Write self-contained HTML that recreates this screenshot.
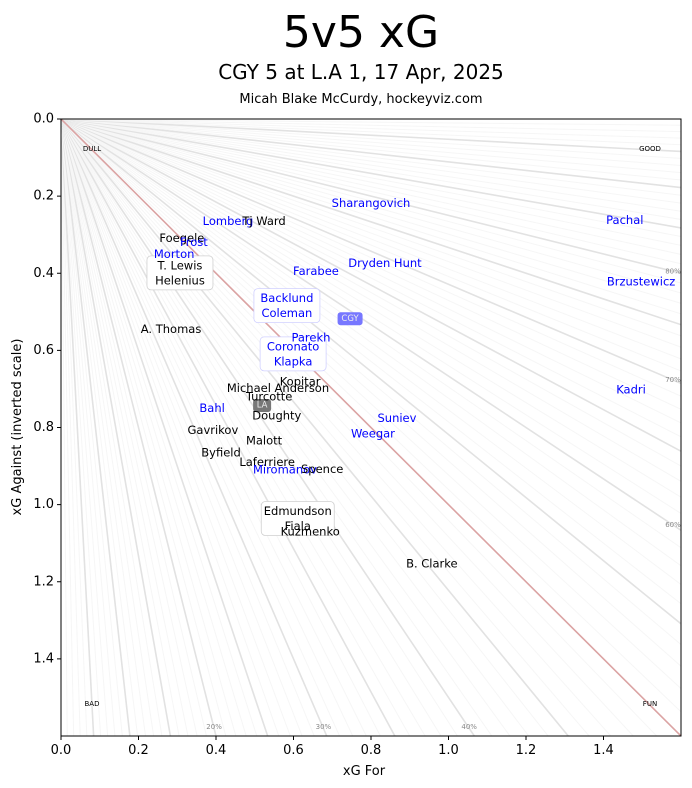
<!DOCTYPE html>
<html><head><meta charset="utf-8"><style>
html,body{margin:0;background:#fff;overflow:hidden;width:692px;height:788px;}
svg{display:block;font-family:"DejaVu Sans","Liberation Sans",sans-serif;}
</style></head><body>
<svg id="chart" width="692" height="788" viewBox="0 0 692 788">
<defs><clipPath id="clip"><rect x="61" y="119" width="620" height="617"/></clipPath></defs>
<text x="361" y="47" text-anchor="middle" font-size="44">5v5 xG</text>
<text x="361" y="79" text-anchor="middle" font-size="20">CGY 5 at L.A 1, 17 Apr, 2025</text>
<text x="361" y="103" text-anchor="middle" font-size="13">Micah Blake McCurdy, hockeyviz.com</text>
<g id="grid" clip-path="url(#clip)"></g>
<g id="boxes"></g>
<g id="labels"></g>
<g id="axes"></g>
<text x="364" y="775" text-anchor="middle" font-size="13">xG For</text>
<text transform="translate(21,427) rotate(-90)" text-anchor="middle" font-size="13">xG Against (inverted scale)</text>
</svg>
<script>
const xTicks=[0,0.2,0.4,0.6,0.8,1.0,1.2,1.4];
const yTicks=[0,0.2,0.4,0.6,0.8,1.0,1.2,1.4];
const players=["Sharangovich","Lomberg","Tj Ward","Pachal","Foegele","Frost","Morton","T. Lewis\nHelenius","Dryden Hunt","Farabee","Brzustewicz","Backlund\nColeman","A. Thomas","Parekh","Coronato\nKlapka","Kopitar","Michael Anderson","Kadri","Turcotte","Bahl","Doughty","Suniev","Gavrikov","Weegar","Malott","Byfield","Laferriere","Miromanov","Spence","Edmundson\nFiala","Kuzmenko","B. Clarke"];
const xgFor=[0.80,0.431,0.524,1.455,0.312,0.343,0.292,0.307,0.836,0.658,1.497,0.583,0.284,0.645,0.599,0.617,0.56,1.471,0.537,0.39,0.557,0.867,0.392,0.805,0.524,0.413,0.532,0.578,0.674,0.611,0.643,0.957];
const xgAgainst=[0.218,0.264,0.264,0.262,0.308,0.319,0.35,0.399,0.373,0.394,0.422,0.484,0.544,0.567,0.609,0.681,0.697,0.702,0.72,0.749,0.769,0.775,0.806,0.816,0.834,0.865,0.889,0.909,0.907,1.036,1.07,1.153];
const teams=["CGY","CGY","LA","CGY","LA","CGY","CGY","LA","CGY","CGY","CGY","CGY","LA","CGY","CGY","LA","LA","CGY","LA","CGY","LA","CGY","LA","CGY","LA","LA","LA","CGY","LA","LA","LA","LA"];
const teamNames=["CGY","LA"];
const teamFor=[0.746,0.519];
const teamAgainst=[0.518,0.743];
const shareLabels=["20%","30%","40%","60%","70%","80%"];
const shareVals=[0.2,0.3,0.4,0.6,0.7,0.8];
const X0=61,X1=681,Y0=119,Y1=736,XMAX=1.6,YMAX=1.6;
const sx=v=>X0+v/XMAX*(X1-X0);
const sy=v=>Y0+v/YMAX*(Y1-Y0);
const NS="http://www.w3.org/2000/svg";
function mk(tag,attrs,parent){const e=document.createElementNS(NS,tag);for(const k in attrs)e.setAttribute(k,attrs[k]);parent.appendChild(e);return e;}
const grid=document.getElementById('grid');
for(let p=1;p<100;p++){
  if(p===50)continue;
  const f=p/100,t=10;
  const l=mk('line',{x1:sx(0),y1:sy(0),x2:sx(f*t),y2:sy((1-f)*t),stroke:p%5===0?'#e2e2e2':'#f6f6f6','stroke-width':p%5===0?1.6:1},grid);
  
  
}
const red=mk('line',{x1:sx(0),y1:sy(0),x2:sx(3),y2:sy(3),stroke:'#dba3a3','stroke-width':1.6},grid);


const lab=document.getElementById('labels');
const boxes=document.getElementById('boxes');
function cornerText(x,y,s,name){const t=mk('text',{x:x,y:y,'font-size':7,'text-anchor':'middle','dominant-baseline':'central'},lab);t.textContent=s;

}
cornerText(92,149,'DULL','corner-dull');cornerText(650,149,'GOOD','corner-good');
cornerText(92,704,'BAD','corner-bad');cornerText(650,704,'FUN','corner-fun');
shareVals.forEach((f,i)=>{
  let x,y;
  if(f<0.5){y=YMAX-0.02;x=f/(1-f)*y;x=sx(x);y=727;}
  else{x=673;y=sy((1-f)/f*(XMAX-0.02));}
  const t=mk('text',{x:x,y:y,'font-size':7,fill:'#888','text-anchor':'middle','dominant-baseline':'central'},lab);
  t.textContent=shareLabels[i];
  
  
});
players.forEach((n,i)=>{
  const col=teams[i]==='CGY'?'#0000ff':'#000';
  const lines=n.split('\n');
  const cx=sx(xgFor[i]),cy=sy(xgAgainst[i]);
  if(lines.length>1){
    const w=Math.max(...lines.map(s=>s.length))*7+10;
    const r=mk('rect',{x:cx-w/2,y:cy-17,width:w,height:34,rx:4,fill:'#fff',stroke:teams[i]==='CGY'?'#d0d0ff':'#d0d0d0','stroke-width':0.8},boxes);
    
    
  }
  lines.forEach((s,j)=>{
    const t=mk('text',{x:cx,y:cy+(j-(lines.length-1)/2)*15,'font-size':11.5,fill:col,'text-anchor':'middle','dominant-baseline':'central'},lab);
    t.textContent=s;
    
    
  });
});
teamNames.forEach((n,i)=>{
  const cx=sx(teamFor[i]),cy=sy(teamAgainst[i]);
  const w=n.length*7+4;
  const r=mk('rect',{x:cx-w/2,y:cy-6.5,width:w,height:13,rx:3,fill:n==='CGY'?'#7777ff':'#777777'},boxes);
  
  
  const t=mk('text',{x:cx,y:cy,'font-size':8.5,fill:'#eee','text-anchor':'middle','dominant-baseline':'central'},boxes);
  t.textContent=n;
  
  
});
const ax=document.getElementById('axes');
const fr=mk('rect',{x:X0,y:Y0,width:X1-X0,height:Y1-Y0,fill:'none',stroke:'#000','stroke-width':1},ax);


xTicks.forEach(v=>{
  mk('line',{x1:sx(v),y1:Y1,x2:sx(v),y2:Y1+4,stroke:'#000'},ax);
  const t=mk('text',{x:sx(v),y:Y1+18,'font-size':13,'text-anchor':'middle'},ax);
  t.textContent=v.toFixed(1);
  
  
});
yTicks.forEach(v=>{
  mk('line',{x1:X0-4,y1:sy(v),x2:X0,y2:sy(v),stroke:'#000'},ax);
  const t=mk('text',{x:X0-7,y:sy(v),'font-size':13,'text-anchor':'end','dominant-baseline':'central'},ax);
  t.textContent=v.toFixed(1);
  
  
});
</script>
</body></html>
